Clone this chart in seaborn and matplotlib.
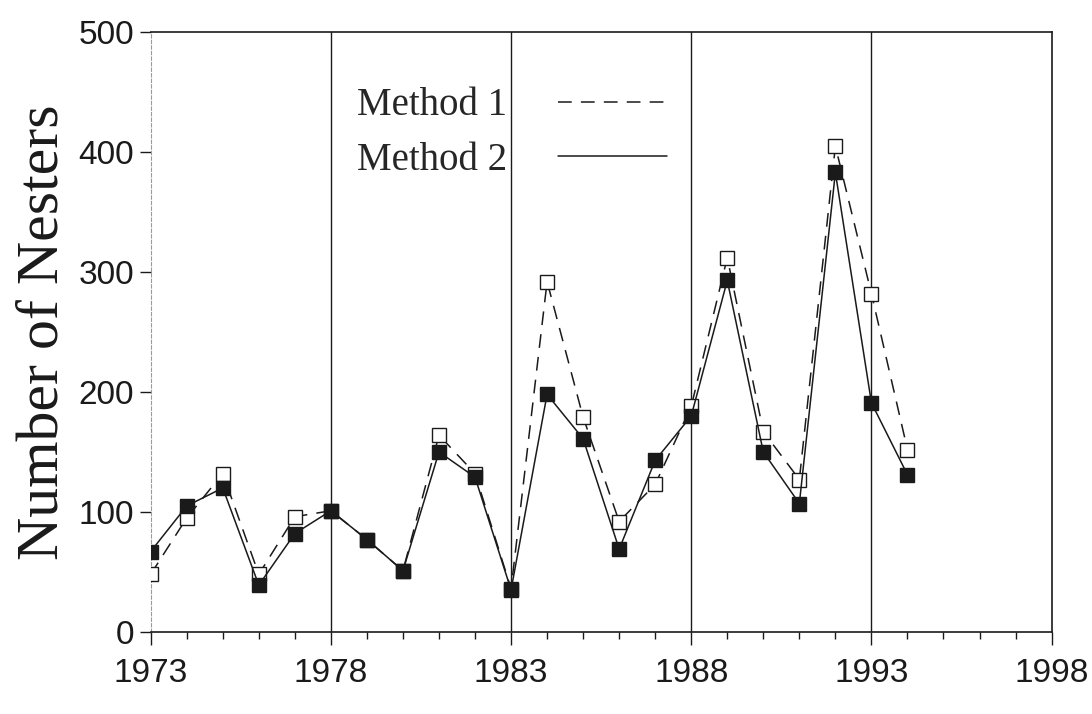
import numpy as np
import pandas as pd
import matplotlib
matplotlib.use("Agg")
import matplotlib.pyplot as plt
from matplotlib.lines import Line2D
from matplotlib.ticker import MultipleLocator
import seaborn as sns

# Values
years = list(range(1973, 1995))
method1 = [48, 95, 132, 48, 96, 101, 77, 51, 164, 132, 36,
           292, 179, 92, 123, 188, 312, 167, 127, 405, 282, 152]
method2 = [67, 105, 120, 39, 82, 101, 77, 51, 150, 129, 35,
           198, 161, 69, 143, 180, 293, 150, 107, 383, 191, 131]
x_major = [1973, 1978, 1983, 1988, 1993, 1998]
y_ticks = [0, 100, 200, 300, 400, 500]

df = pd.DataFrame({"Year": years, "Method 1": method1, "Method 2": method2})

sns.set_style("ticks")
plt.rcParams["font.family"] = ["Liberation Sans", "DejaVu Sans"]

fig = plt.figure(figsize=(10.92, 7.14), dpi=100)
ax = fig.add_axes([0.138, 0.115, 0.825, 0.84])

ink = "#1a1a1a"
dash = (0, (9, 6))

# Method 1: dashed with open squares
sns.lineplot(data=df, x="Year", y="Method 1", ax=ax, color=ink, linewidth=1.1,
             linestyle=dash, marker="s", markersize=10,
             markerfacecolor="white", markeredgecolor=ink, markeredgewidth=1.0,
             zorder=3)
# Method 2: solid with filled squares
sns.lineplot(data=df, x="Year", y="Method 2", ax=ax, color=ink, linewidth=1.1,
             marker="s", markersize=10, markerfacecolor=ink,
             markeredgecolor=ink, markeredgewidth=1.0, zorder=4)

ax.set_xlim(1973, 1998)
ax.set_ylim(0, 500)
ax.set_xticks(x_major)
ax.set_xticklabels([str(y) for y in x_major])
ax.xaxis.set_minor_locator(MultipleLocator(1))
ax.set_yticks(y_ticks)
ax.set_yticklabels([str(v) for v in y_ticks])

# vertical lines at every 5 years
for xv in x_major[1:-1]:
    ax.axvline(xv, color=ink, linewidth=1.0, zorder=1)

ax.tick_params(axis="x", which="major", direction="out", length=9, width=1,
               labelsize=24, pad=10, colors=ink)
ax.tick_params(axis="x", which="minor", direction="out", length=5, width=1, colors=ink)
ax.tick_params(axis="y", which="major", direction="out", length=8, width=1,
               labelsize=24, pad=4, colors=ink)

for side in ["top", "right", "bottom"]:
    ax.spines[side].set_visible(True)
    ax.spines[side].set_color(ink)
    ax.spines[side].set_linewidth(1.2)
ax.spines["left"].set_color("#9a9a9a")
ax.spines["left"].set_linewidth(0.8)
ax.spines["left"].set_linestyle((0, (3, 2)))

ax.set_xlabel("")
ax.set_ylabel("Number of Nesters", fontsize=43, family=["Liberation Serif", "DejaVu Serif"],
              color=ink, labelpad=6)

handles = [Line2D([], [], color=ink, linewidth=1.1, linestyle=dash),
           Line2D([], [], color=ink, linewidth=1.1)]
ax.legend(handles, ["Method 1", "Method 2"], loc="upper left",
          bbox_to_anchor=(0.229, 0.908), frameon=False, markerfirst=False,
          handlelength=2.8, handletextpad=1.3, labelspacing=0.45,
          borderpad=0, borderaxespad=0,
          prop={"family": ["Liberation Serif", "DejaVu Serif"], "size": 28})

fig.savefig("out.png", dpi=100, facecolor="white")
